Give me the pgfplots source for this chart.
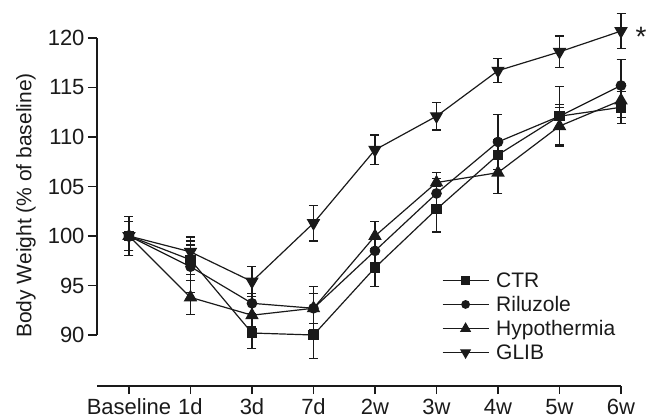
\documentclass[border=0pt]{standalone}
\usepackage{fontspec}
\setmainfont{Liberation Sans}
\usepackage{pgfplots}
\pgfplotsset{compat=1.18}
\definecolor{ink}{HTML}{1A1A1A}
\newcommand{\chfont}{\fontsize{21bp}{25bp}\selectfont}
\newcommand{\tkfont}{\fontsize{22bp}{26bp}\selectfont}
\pgfplotsset{
  ser/.style={color=ink, line width=1.2bp, mark options={solid, fill=ink},
    error bars/y dir=both, error bars/y explicit, error bars/error mark=|,
    error bars/error mark options={mark size=4.5bp, line width=1.2bp, ink},
    error bars/error bar style={line width=1.2bp, ink}},
}
\begin{document}
\begin{tikzpicture}
\useasboundingbox (-97bp,-84bp) rectangle (558bp,335bp);
\begin{axis}[
  at={(0,0)}, anchor=south west,
  scale only axis, width=524bp, height=297bp,
  xmin=-0.52, xmax=8, ymin=90, ymax=120,
  clip=false,
  axis x line=none, axis y line*=left,
  ytick={90,95,...,120},
  tick align=outside, major tick length=9bp,
  ytick style={line width=1.3bp, ink},
  y axis line style={line width=1.4bp, ink, -},
  /pgf/number format/assume math mode=true,
  tick label style={font=\tkfont, text=ink},
  ylabel={Body Weight (\% of baseline)},
  ylabel style={font=\chfont, text=ink, at={(axis description cs:-0.1355,0.436)}, anchor=center, rotate=0},
  legend style={at={(axis description cs:0.658,0.218)}, anchor=north west,
    draw=none, fill=none, font=\chfont, text=ink, row sep=3.5bp, column sep=5bp, inner sep=0pt},
  legend cell align=left,
  legend image code/.code={\draw[mark repeat=2,mark phase=2, every mark/.append style={scale=0.8}] plot coordinates {(0bp,0bp)(23bp,0bp)(46bp,0bp)};},
]
\addplot[ser, mark=square*, mark size=4.6bp] table[x=x,y=y,y error=e] {
x y e
0 100.0 1.5
1 97.6 1.5
2 90.2 1.6
3 90.0 2.4
4 96.8 1.9
5 102.7 2.3
6 108.2 1.5
7 112.1 1.2
8 113.0 1.6
};
\addplot[ser, mark=*, mark size=4.7bp] table[x=x,y=y,y error=e] {
x y e
0 100.0 1.5
1 96.9 2.6
2 93.2 1.0
3 92.7 2.2
4 98.5 1.2
5 104.3 1.5
6 109.5 2.8
7 112.1 3.0
8 115.2 2.6
};
\addplot[ser, mark=triangle*, mark size=6.6bp] table[x=x,y=y,y error=e] {
x y e
0 100.0 2.0
1 93.8 1.7
2 92.0 1.2
3 92.7 1.5
4 100.0 1.5
5 105.4 1.0
6 106.4 2.1
7 111.1 1.9
8 113.7 1.7
};
\addplot[ser, mark=triangle*, mark size=6.6bp, mark options={rotate=180}] table[x=x,y=y,y error=e] {
x y e
0 100.0 2.0
1 98.4 1.5
2 95.4 1.5
3 101.3 1.8
4 108.7 1.5
5 112.1 1.4
6 116.7 1.2
7 118.6 1.6
8 120.7 1.8
};
\legend{CTR,Riluzole,Hypothermia,GLIB}
\node[font=\fontsize{28bp}{32bp}\selectfont, text=ink, anchor=base west, inner sep=0pt] at (axis cs:8,119.1) [xshift=14.5bp] {*};
\end{axis}
\begin{axis}[
  at={(0,-51bp)}, anchor=south west,
  scale only axis, width=524bp, height=10bp,
  xmin=-0.52, xmax=8, ymin=0, ymax=1,
  axis y line=none, axis x line*=bottom,
  x axis line style={line width=1.4bp, ink, -},
  xtick={0,...,8},
  xticklabels={Baseline,1d,3d,7d,2w,3w,4w,5w,6w},
  tick align=outside, major tick length=8bp,
  xtick style={line width=1.3bp, ink},
  tick label style={font=\tkfont, text=ink},
  xticklabel style={text height=16bp, text depth=4bp, inner sep=2bp, yshift=-2.5bp},
]
\end{axis}
\end{tikzpicture}
\end{document}
